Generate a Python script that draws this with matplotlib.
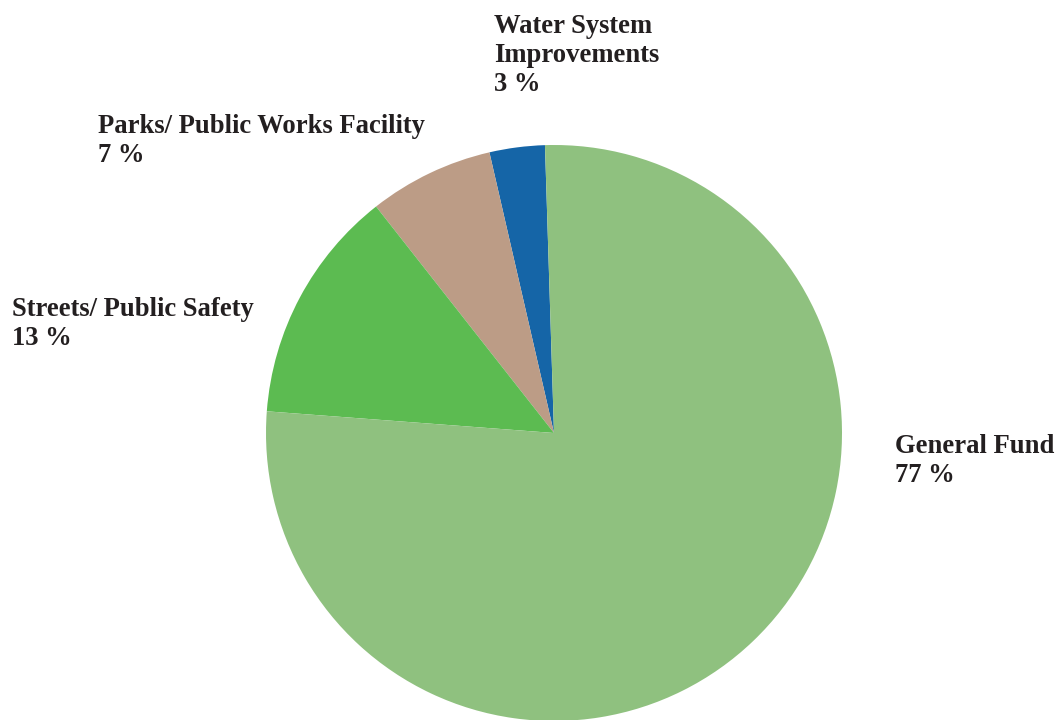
import matplotlib
matplotlib.use("Agg")
import matplotlib.pyplot as plt

# slices in counterclockwise order starting from the top
categories = ["Water System\nImprovements", "Parks/ Public Works Facility",
              "Streets/ Public Safety", "General Fund"]
values = [3.1, 7.0, 13.2, 76.7]
pct_labels = ["3 %", "7 %", "13 %", "77 %"]
colors = ["#1565A7", "#BC9C86", "#5CBB51", "#8FC17F"]

W, H = 1059, 720
fig = plt.figure(figsize=(W / 100, H / 100), dpi=100)

# pie centre at (554, 433) px, radius 288 px
cx, cy, r = 554, 433, 288
ax = fig.add_axes([(cx - r) / W, (H - cy - r) / H, 2 * r / W, 2 * r / H])
ax.pie(values, colors=colors, startangle=91.8, counterclock=True,
       radius=1.0, wedgeprops=dict(linewidth=0))
ax.set_xlim(-1, 1)
ax.set_ylim(-1, 1)
ax.set_aspect("equal")
ax.axis("off")

# label positions (top-left corner, pixels)
label_pos = [(494, 14), (98, 114), (12, 297), (895, 434)]
for cat, pct, (x, y) in zip(categories, pct_labels, label_pos):
    fig.text(x / W, 1 - y / H, cat + "\n" + pct, ha="left", va="top",
             fontsize=19.2, fontweight="bold", family="Liberation Serif",
             color="#231F20", linespacing=1.22)

fig.savefig("out.png", dpi=100)
